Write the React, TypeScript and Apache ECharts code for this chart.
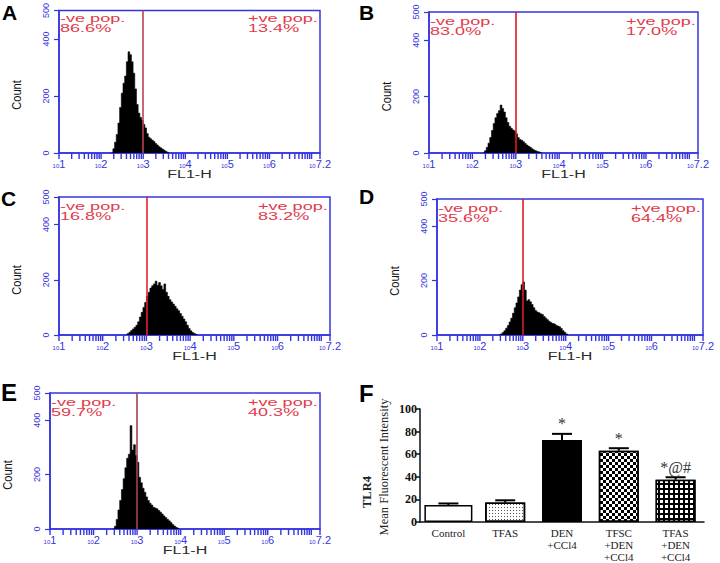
import React, { useEffect, useRef } from 'react';
import * as echarts from 'echarts';

// ---------- DATA ----------
// Flow-cytometry histograms: FL1-H in log10 units, bin width 0.04 decade
const BIN = 0.04;
const histStarts = [2.24, 2.24, 2.52, 2.44, 2.44];
const countsA = [0, 15, 38, 65, 105, 160, 210, 245, 270, 320, 355, 345, 320, 280, 225, 170, 140, 125, 115, 100, 88, 68, 55, 50, 45, 40, 33, 28, 22, 18, 14, 10, 6, 3, 0];
const countsB = [0, 8, 20, 35, 55, 80, 105, 125, 140, 150, 170, 158, 145, 125, 108, 95, 88, 82, 78, 68, 55, 48, 45, 40, 34, 28, 24, 20, 15, 11, 8, 5, 3, 1, 0];
const countsC = [0, 5, 10, 16, 22, 28, 35, 48, 65, 82, 100, 118, 140, 155, 170, 178, 185, 195, 180, 190, 178, 165, 185, 155, 140, 128, 120, 112, 104, 95, 88, 78, 68, 58, 48, 35, 24, 15, 9, 5, 2, 0];
const countsD = [0, 4, 9, 16, 25, 35, 48, 62, 80, 100, 118, 140, 165, 185, 195, 165, 125, 130, 122, 112, 100, 90, 85, 82, 78, 75, 68, 62, 56, 50, 46, 42, 40, 36, 33, 30, 24, 16, 10, 4, 0];
const countsE = [0, 10, 35, 70, 105, 145, 185, 225, 260, 275, 380, 290, 310, 270, 245, 190, 170, 150, 135, 118, 105, 95, 88, 80, 77, 74, 68, 62, 55, 48, 42, 36, 30, 24, 17, 11, 6, 3, 0];
const histCounts = [countsA, countsB, countsC, countsD, countsE];
const gateX = 3;
const negLabel = '-ve pop.';
const posLabel = '+ve pop.';
const negPct = ['86.6%', '83.0%', '16.8%', '35.6%', '59.7%'];
const posPct = ['13.4%', '17.0%', '83.2%', '64.4%', '40.3%'];
const xLabelDecades = [1, 2, 3, 4, 5, 6, 7.2];
const yTicks = [0, 200, 400, 500];

// Bar chart (F)
const barCats = ['Control', 'TFAS', 'DEN\n+CCl4', 'TFSC\n+DEN\n+CCl4', 'TFAS\n+DEN\n+CCl4'];
const barMeans = [15, 17.2, 72.5, 63, 37.4];
const barSem = [1.4, 2.0, 5.5, 2.3, 2.2];
const barMarks = ['', '', '*', '*', '*@#'];
const panelLetters = ['A', 'B', 'C', 'D', 'E', 'F'];

// ---------- LAYOUT / STYLE ----------
const BLUE = '#3434e0';
const POP_RED = '#e2394a';
const gateColors = ['#b8444f', '#e3161f', '#e6222a', '#d81e28', '#a8404a'];
const boxes = [
  { l: 59, t: 9, w: 261, h: 144 },
  { l: 429, t: 12, w: 269, h: 141 },
  { l: 59, t: 197, w: 271, h: 138 },
  { l: 437, t: 199, w: 266, h: 136 },
  { l: 50, t: 393, w: 270, h: 136 },
];
const barBox = { l: 420, t: 409, w: 284, h: 116 };
const letterPos = [
  { x: 2, y: 12, s: 21 },
  { x: 359, y: 12, s: 21 },
  { x: 1, y: 198, s: 21 },
  { x: 359, y: 196, s: 21 },
  { x: 1, y: 392, s: 24 },
  { x: 359, y: 393, s: 24 },
];

function buildOption() {
  // logarithmic tick positions of the FL1-H axis (log10 units)
  const minorTicks: number[] = [];
  for (let d = 1; d <= 7; d++) {
    for (let k = 1; k <= 9; k++) {
      const v = d + Math.log10(k);
      if (v <= 7.2 + 1e-9) minorTicks.push(v);
    }
  }
  minorTicks.push(7.2);

  const grid: any[] = boxes.map((b) => ({
    left: b.l, top: b.t, width: b.w, height: b.h,
    show: true, borderColor: BLUE, borderWidth: 1.5, backgroundColor: '#fff',
  }));
  grid.push({ left: barBox.l, top: barBox.t, width: barBox.w, height: barBox.h, show: false });

  const xAxis: any[] = boxes.map((b, i) => ({
    type: 'value', gridIndex: i, min: 1, max: 7.2, interval: 1,
    axisLine: { show: true, lineStyle: { color: BLUE, width: 1.5 } },
    axisTick: { show: false },
    splitLine: { show: false },
    axisLabel: {
      color: BLUE, margin: 5, showMinLabel: true, showMaxLabel: true,
      formatter: (v: number) => {
        const found = xLabelDecades.find((d) => Math.abs(d - v) < 1e-6);
        if (found === undefined) return '';
        return '{a|10}{b|' + String(found) + '}';
      },
      rich: {
        a: { fontSize: 6, color: BLUE, fontFamily: 'Liberation Sans', verticalAlign: 'bottom' },
        b: { fontSize: 11, color: BLUE, fontFamily: 'Liberation Sans', verticalAlign: 'bottom' },
      },
    },
  }));
  // index 5: visible category axis of panel F
  xAxis.push({
    type: 'category', gridIndex: 5, data: barCats,
    axisLine: { show: true, lineStyle: { color: '#111', width: 1.5 } },
    axisTick: { show: false },
    axisLabel: { color: '#222', fontFamily: 'Liberation Serif', fontSize: 11, lineHeight: 12, margin: 5, interval: 0 },
  });
  // index 6: hidden twin axis for the wider Control bar
  xAxis.push({ type: 'category', gridIndex: 5, data: barCats, show: false });

  const yAxis: any[] = boxes.map((b, i) => ({
    type: 'value', gridIndex: i, min: yTicks[0], max: yTicks[yTicks.length - 1], interval: 200,
    axisLine: { show: true, lineStyle: { color: BLUE, width: 1.5 } },
    axisTick: { show: true, length: 5, lineStyle: { color: BLUE, width: 1.2 } },
    splitLine: { show: false },
    axisLabel: { color: BLUE, rotate: 90, fontSize: 9, fontFamily: '"Liberation Sans Narrow", "Liberation Sans"', margin: 9 },
  }));
  yAxis.push({
    type: 'value', gridIndex: 5, min: 0, max: 100, interval: 20,
    axisLine: { show: true, lineStyle: { color: '#111', width: 1.5 } },
    axisTick: { show: true, length: 4, lineStyle: { color: '#111', width: 1.5 } },
    splitLine: { show: false },
    axisLabel: { color: '#111', fontFamily: 'Liberation Serif', fontWeight: 'bold', fontSize: 12, margin: 3 },
  });

  const series: any[] = [];
  histCounts.forEach((counts, i) => {
    series.push({
      type: 'line', xAxisIndex: i, yAxisIndex: i, step: 'end', silent: true,
      showSymbol: false, symbol: 'none',
      data: counts.map((c, j) => [histStarts[i] + j * BIN, c]),
      lineStyle: { color: '#000', width: 0.6 },
      areaStyle: { color: '#000', opacity: 1 },
      markLine: {
        silent: true, symbol: ['none', 'none'], label: { show: false },
        lineStyle: { color: gateColors[i], width: 1.6, type: 'solid' },
        data: [{ xAxis: gateX }],
      },
      z: 2,
    });
    // log-decade tick marks hanging below the FL1-H axis
    series.push({
      type: 'custom', xAxisIndex: i, yAxisIndex: i, silent: true, z: 10,
      data: minorTicks.map((x) => [x, 0]),
      renderItem: (params: any, api: any) => {
        const c = api.coord([api.value(0), api.value(1)]);
        return {
          type: 'rect',
          shape: { x: c[0] - 0.7, y: c[1], width: 1.4, height: 6 },
          style: { fill: BLUE },
        };
      },
    });
  });

  const border = { borderColor: '#000', borderWidth: 1.5 };
  series.push({
    type: 'bar', xAxisIndex: 6, yAxisIndex: 5, barWidth: 48, silent: true,
    data: barMeans.map((m, i) => (i === 0 ? { value: m, itemStyle: { color: '#fff', ...border } } : '-')),
  });
  const decals: any[] = [
    null,
    { symbol: 'rect', symbolSize: 1, color: '#555', dashArrayX: [1, 2], dashArrayY: [1, 2] },
    null,
    { symbol: 'rect', symbolSize: 1, color: '#000', dashArrayX: [[3, 3], [0, 3, 3, 0]], dashArrayY: [3, 0] },
    { symbol: 'rect', symbolSize: 1, color: '#fff', dashArrayX: [3, 1.2], dashArrayY: [3, 1.2] },
  ];
  const baseColors = ['#fff', '#fff', '#000', '#fff', '#000'];
  series.push({
    type: 'bar', xAxisIndex: 5, yAxisIndex: 5, barWidth: 40, silent: true,
    data: barMeans.map((m, i) => {
      if (i === 0) return '-';
      const st: any = { color: baseColors[i], ...border };
      if (decals[i]) st.decal = decals[i];
      return { value: m, itemStyle: st };
    }),
  });
  series.push({
    type: 'custom', xAxisIndex: 5, yAxisIndex: 5, silent: true, z: 5,
    data: barMeans.map((m, i) => [i, m, m + barSem[i]]),
    renderItem: (params: any, api: any) => {
      const idx = api.value(0);
      const base = api.coord([idx, api.value(1)]);
      const top = api.coord([idx, api.value(2)]);
      const children: any[] = [
        { type: 'line', shape: { x1: base[0], y1: base[1], x2: top[0], y2: top[1] }, style: { stroke: '#000', lineWidth: 2 } },
        { type: 'line', shape: { x1: top[0] - 10, y1: top[1], x2: top[0] + 10, y2: top[1] }, style: { stroke: '#000', lineWidth: 2 } },
      ];
      const mark = barMarks[params.dataIndex];
      if (mark) {
        children.push({
          type: 'text', x: top[0], y: top[1] - 2,
          style: { legacy: false, text: mark, fill: '#333', fontSize: 16, fontFamily: 'Liberation Serif', align: 'center', verticalAlign: 'bottom' },
        });
      }
      return { type: 'group', children };
    },
  });

  const elements: any[] = [];
  letterPos.forEach((p, i) => {
    elements.push({
      type: 'text', x: p.x, y: p.y,
      style: { text: panelLetters[i], fill: '#000', fontSize: p.s, fontWeight: 'bold', fontFamily: 'Liberation Sans', align: 'left', verticalAlign: 'middle' },
    });
  });
  const popStyle = { fill: POP_RED, fontSize: 10.5, fontFamily: 'Liberation Sans', align: 'left', verticalAlign: 'top' };
  boxes.forEach((b, i) => {
    elements.push({ type: 'text', x: b.l + 1, y: b.t + 3.5, scaleX: 1.72, style: { ...popStyle, text: negLabel } });
    elements.push({ type: 'text', x: b.l + 1, y: b.t + 13.5, scaleX: 1.72, style: { ...popStyle, text: negPct[i] } });
    elements.push({ type: 'text', x: b.l + b.w - 72, y: b.t + 3.5, scaleX: 1.72, style: { ...popStyle, text: posLabel } });
    elements.push({ type: 'text', x: b.l + b.w - 72, y: b.t + 13.5, scaleX: 1.72, style: { ...popStyle, text: posPct[i] } });
    elements.push({
      type: 'text', x: b.l + b.w / 2, y: b.t + b.h + 17, scaleX: 1.6,
      style: { text: 'FL1-H', fill: '#2a2a2a', fontSize: 10, fontFamily: 'Liberation Sans', align: 'center', verticalAlign: 'top' },
    });
    elements.push({
      type: 'text', x: b.l - 42, y: b.t + b.h / 2 + 14, rotation: Math.PI / 2, scaleX: 0.85,
      style: { text: 'Count', fill: '#111', fontSize: 13, fontFamily: '"Liberation Sans Narrow", "Liberation Sans"', align: 'center', verticalAlign: 'middle' },
    });
  });
  elements.push({
    type: 'text', x: 384, y: barBox.t + barBox.h / 2, rotation: Math.PI / 2,
    style: { text: 'Mean Fluorescent Intensity', fill: '#222', fontSize: 12.5, fontFamily: 'Liberation Serif', align: 'center', verticalAlign: 'middle' },
  });
  elements.push({
    type: 'text', x: 367, y: 492, rotation: Math.PI / 2,
    style: { text: 'TLR4', fill: '#222', fontSize: 12.5, fontWeight: 'bold', fontFamily: 'Liberation Serif', align: 'center', verticalAlign: 'middle' },
  });

  return {
    animation: false,
    backgroundColor: '#fff',
    textStyle: { fontFamily: 'Liberation Sans' },
    grid, xAxis, yAxis, series,
    graphic: { elements },
  };
}

export default function App() {
  const ref = useRef<HTMLDivElement>(null);
  useEffect(() => {
    if (!ref.current) return;
    const chart = echarts.init(ref.current, null, { renderer: 'svg' });
    chart.setOption(buildOption() as any);
    return () => chart.dispose();
  }, []);
  return (
    <div
      ref={ref}
      style={{ position: 'absolute', left: 0, top: 0, width: 720, height: 563, background: '#fff' }}
    />
  );
}
